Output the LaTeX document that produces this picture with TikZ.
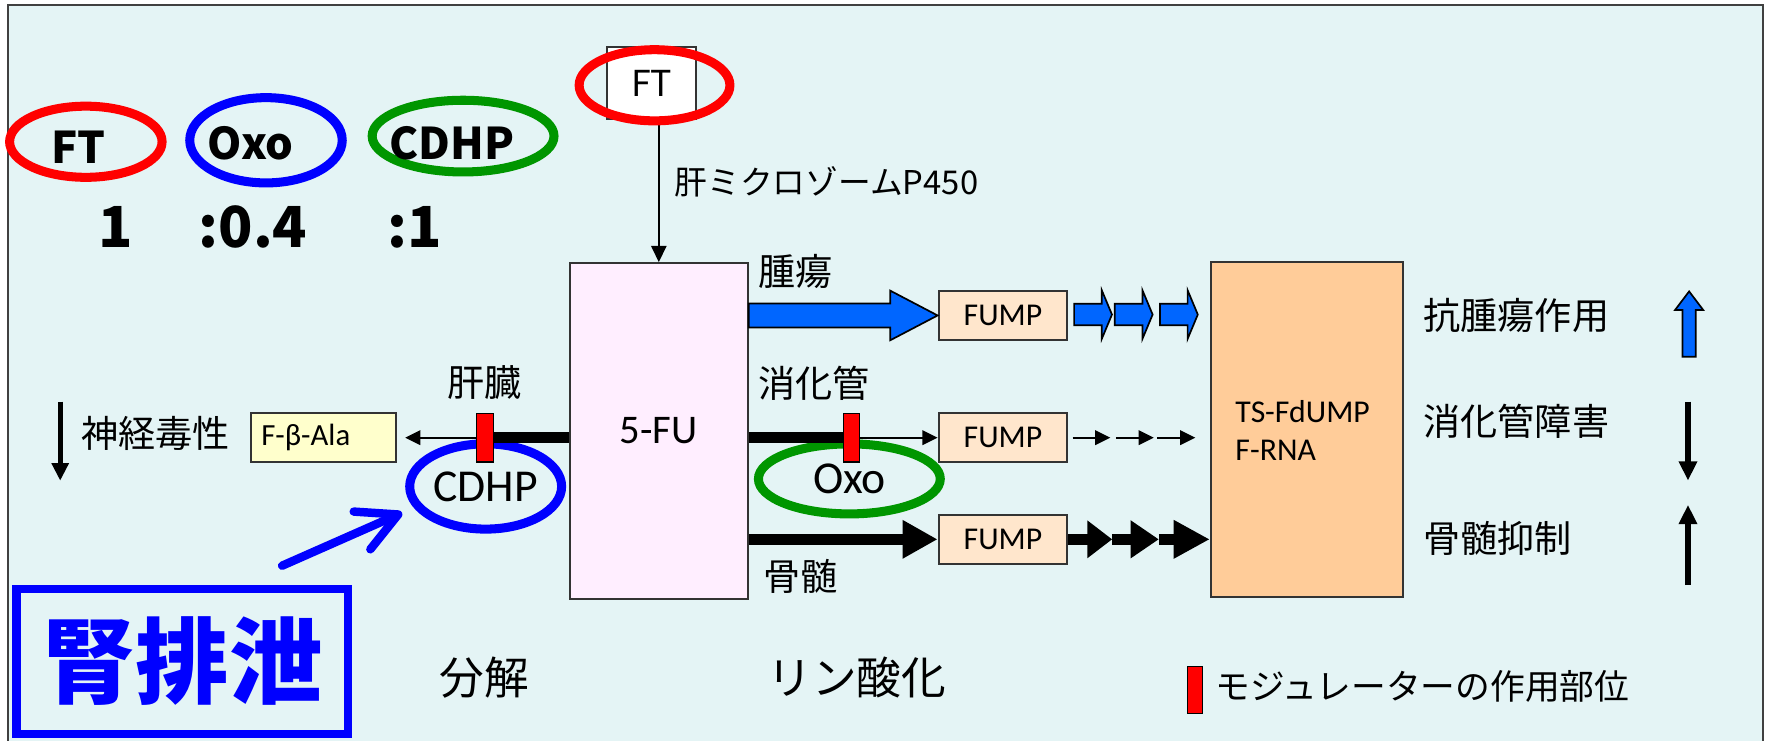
\documentclass[tikz,border=0pt]{standalone}
\usepackage{fontspec}
\setmainfont{Carlito}
\newfontfamily\jpfont{Noto Sans CJK JP}
\usetikzlibrary{arrows.meta,calc,positioning,shapes.geometric}

\definecolor{panel}{RGB}{228,244,245}
\definecolor{fupink}{RGB}{255,238,255}
\definecolor{fumpfill}{RGB}{255,230,204}
\definecolor{tsfill}{RGB}{255,204,153}
\definecolor{alafill}{RGB}{255,255,204}
\definecolor{arrowblue}{RGB}{0,102,255}
\definecolor{ringgreen}{RGB}{0,150,0}

\newcommand\JpLabel{\jpfont\fontsize{18.7}{22}\selectfont}
\newcommand\JpBig{\jpfont\fontsize{22.5}{26}\selectfont}
\newcommand\TopName{\jpfont\bfseries\fontsize{22}{26}\selectfont}

\tikzset{
  box/.style={
    shape = rectangle,
    draw = black!80,
    line width = 0.35mm,
    inner sep = 0pt
  },
}
\tikzset{
  fump/.style={
    box,
    fill = fumpfill,
    minimum width = 22.8mm,
    minimum height = 8.6mm,
    font = \fontsize{16}{18}\selectfont
  },
}
\tikzset{
  modulator/.style={
    shape = rectangle,
    draw = black,
    line width = 0.2mm,
    fill = red,
    inner sep = 0pt,
    minimum width = 2.9mm,
    minimum height = 8.6mm
  },
}
\tikzset{
  ring/.style={
    shape = ellipse,
    draw = #1,
    line width = 1.6mm,
    inner sep = 0pt
  },
  jp/.style={
    font = \JpLabel,
    inner sep = 0pt
  },
  jpbig/.style={
    font = \JpBig,
    inner sep = 0pt
  },
  topname/.style={
    font = \TopName,
    inner sep = 0pt
  },
  ratiotext/.style={
    font = \jpfont\bfseries\fontsize{28.5}{32}\selectfont,
    inner sep = 0pt
  },
  fatline/.style={
    line width = 2mm
  },
  fatarrow/.style={
    line width = 2mm,
    -{Triangle[length=6.2mm,width=6.4mm]}
  },
  thinarrow/.style={
    line width = 0.3mm,
    -{Triangle[length=2.7mm,width=2.6mm]}
  },
  trend/.style={
    line width = 1mm,
    -{Triangle[length=3.4mm,width=3.1mm]}
  },
  blockarrow/.style={
    draw = black,
    line width = 0.3mm,
    fill = arrowblue,
    line join = miter
  }
}

\begin{document}
\begin{tikzpicture}[x=0.2mm, y=-0.2mm]
    \useasboundingbox (0,0) rectangle (1568,656);
    \fill[white] (0,0) rectangle (1568,656);
    \draw[draw=black!75, line width=0.35mm, fill=panel] (7.5,4.4) rectangle (1560.6,690);

    % ratio of the three components
    \node[ring=red, minimum width=27mm, minimum height=12.6mm] (ftring) at (76,125.5) {};
    \node[topname] (ftname) at (69.5,130) {FT};
    \node[ring=blue, minimum width=27mm, minimum height=15.1mm] (oxoring) at (235.5,124.2) {};
    \node[topname] (oxoname) at (222,127) {Oxo};
    \node[ring=ringgreen, minimum width=32.2mm, minimum height=12.7mm] (cdhpring) at (410,120.5) {};
    \node[topname] (cdhpname) at (400,127) {CDHP};
    \node[ratiotext] (ratioft) at (102.5,201) {1};
    \node[ratiotext] (ratiooxo) at (224,201) {:0.4};
    \node[ratiotext] (ratiocdhp) at (367.5,201) {:1};

    % main boxes
    \node[box, fill=fupink, minimum width=31.5mm, minimum height=59.4mm, font=\fontsize{20.5}{22}\selectfont] (fu) at (583.3,381.5) {5-FU};
    \node[box, fill=tsfill, minimum width=34mm, minimum height=59.3mm] (ts) at (1157,380) {};
    \node[anchor=west, align=left, inner sep=0pt, font=\fontsize{16}{19}\selectfont] (tslabel) at (1093.5,381) {TS-FdUMP\\F-RNA};
    \node[fump] (fump1) at (888,279.3) {FUMP};
    \node[fump] (fump2) at (888,387.5) {FUMP};
    \node[fump] (fump3) at (888,477.5) {FUMP};
    \node[box, fill=alafill, minimum height=8.6mm, inner xsep=1.9mm, text width=22mm, align=left, font=\fontsize{15.5}{17}\selectfont] (ala) at (286.4,387.5) {F-β-Ala};

    % prodrug
    \node[box, fill=white, minimum width=15.8mm, minimum height=12.6mm, font=\jpfont\fontsize{18}{20}\selectfont] (ftbox) at (577,73.5) {FT};
    \draw[line width=0.36mm, -{Triangle[length=2.9mm,width=2.7mm]}] (fu.north |- ftbox.south) -- (fu.north);
    \node[ring=red, minimum width=26.7mm, minimum height=12.6mm] (ftsource) at (579.5,75.5) {};
    \node[jp, anchor=west, font=\jpfont\fontsize{16.5}{18}\selectfont] (p450) at (597,161) {肝ミクロゾームP450};

    % modulators
    \node[ring=blue, minimum width=26.9mm, minimum height=15.1mm, font=\fontsize{23}{25}\selectfont] (cdhp) at (430,430.7) {CDHP};
    \node[ring=ringgreen, minimum width=32.2mm, minimum height=12.4mm, font=\fontsize{23}{25}\selectfont] (oxo) at (752,424) {Oxo};
    \coordinate (liverblock) at (429.5,387.5);
    \coordinate (gutblock) at (754,387.5);

    % tumour row
    \draw[blockarrow] ($(fu.east |- fump1.west)+(0,-10.6)$) -- ($(fump1.west)+(-42,-10.6)$) -- ($(fump1.west)+(-42,-22)$)
        -- (fump1.west) -- ($(fump1.west)+(-42,22)$) -- ($(fump1.west)+(-42,10.6)$) -- ($(fu.east |- fump1.west)+(0,10.6)$) -- cycle;
    \foreach \x in {951,987,1027}{
        \draw[blockarrow] (\x,269) -- (\x+24.5,269) -- (\x+24.5,257) -- (\x+33.5,278.5)
            -- (\x+24.5,300) -- (\x+24.5,288) -- (\x,288) -- cycle;
    }

    % gut row
    \draw[fatline] (fu.east |- gutblock) -- (gutblock);
    \draw[thinarrow] (gutblock) -- (fump2.west);
    \foreach \x in {949.6,988,1024.8}{
        \draw[thinarrow] (\x,387.5) -- ++(33.5,0);
    }

    % bone marrow row
    \draw[fatarrow] (fu.east |- fump3.west) -- (fump3.west);
    \coordinate (marrowa) at (984.7,477.5);
    \coordinate (marrowb) at (1026,477.5);
    \draw[fatline, -{Triangle[length=4.4mm,width=6.4mm]}] (fump3.east) -- (marrowa);
    \draw[fatline, -{Triangle[length=5mm,width=6.4mm]}] (marrowa) -- (marrowb);
    \draw[fatline, -{Triangle[length=6.4mm,width=6.4mm]}] (marrowb) -- (marrowb -| ts.west);

    % liver
    \draw[fatline] (fu.west |- liverblock) -- (liverblock);
    \draw[thinarrow, shorten >=1.4mm] (liverblock) -- (ala.east);
    \node[modulator] (liverbar) at (liverblock) {};
    \node[modulator] (gutbar) at (gutblock) {};

    \node[jp, anchor=west] (tumor) at (671,240) {腫瘍};
    \node[jp, anchor=west] (gut) at (671,339) {消化管};
    \node[jp, anchor=west] (marrow) at (675.6,510) {骨髄};
    \node[jp] (liver) at (429,339) {肝臓};
    \node[jp, anchor=west] (neuro) at (71.6,384) {神経毒性};
    \draw[trend, line width=0.9mm, -{Triangle[length=3.1mm,width=2.9mm]}] (53.3,355.6) -- (53.3,425.6);

    % effects
    \node[jp, anchor=west] (antitumor) at (1260,279) {抗腫瘍作用};
    \node[jp, anchor=west] (gutdamage) at (1260,373) {消化管障害};
    \node[jp, anchor=west] (marrowsupp) at (1260,477) {骨髄抑制};
    \draw[blockarrow] (1489.6,315.8) -- (1489.6,274.5) -- (1483,274.5) -- (1495.5,258)
        -- (1508,274.5) -- (1501.4,274.5) -- (1501.4,315.8) -- cycle;
    \draw[trend] (1494.5,355.6) -- (1494.5,425.5);
    \draw[trend] (1494.5,518) -- (1494.5,447);

    % kidney
    \node[draw=blue, line width=1.5mm, inner sep=0pt, minimum width=58.7mm, minimum height=25.6mm, text=blue, font=\jpfont\bfseries\fontsize{47}{50}\selectfont] (kidney) at (161.5,585.7) {腎排泄};
    \coordinate (kidneytail) at ($(kidney.north)+(88.3,-17.1)$);
    \draw[draw=blue, line width=1.5mm, line cap=round, -{Straight Barb[length=7mm,width=7.3mm,round]}] (kidneytail) -- ($(cdhp.center)+(-74,23.3)$);

    % bottom captions
    \node[jpbig] (decomp) at (429,600) {分解};
    \node[jpbig] (phos) at (758.7,600) {リン酸化};
    \node[modulator, minimum height=8.4mm, minimum width=2.8mm] (legendbar) at (1058,611) {};
    \node[jp, anchor=west, font=\jpfont\fontsize{17.5}{20}\selectfont] (legendtext) at (1076,608) {モジュレーターの作用部位};
\end{tikzpicture}
\end{document}
